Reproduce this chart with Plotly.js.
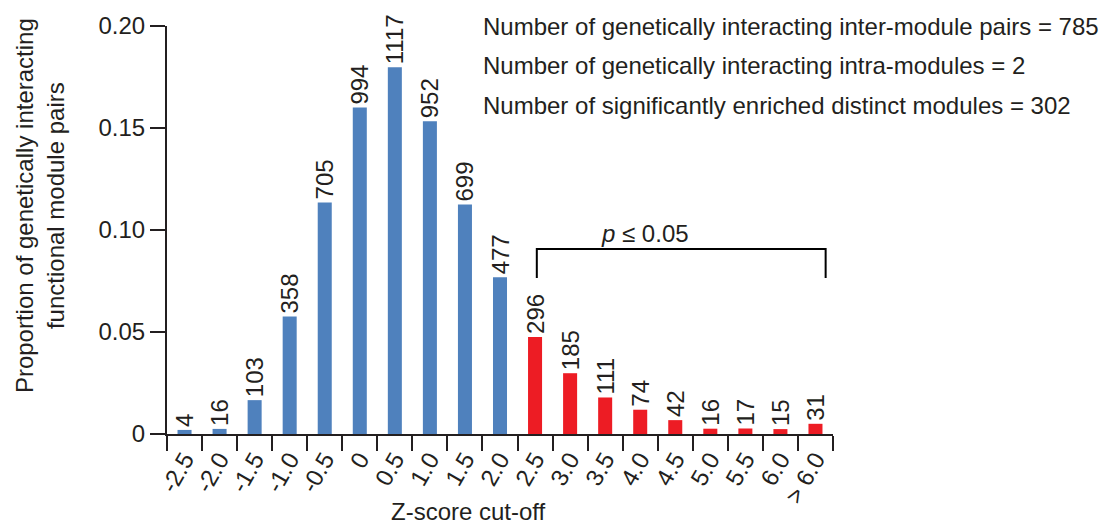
<!DOCTYPE html>
<html>
<head>
<meta charset="utf-8">
<script src="https://cdn.plot.ly/plotly-3.0.1.min.js"></script>
<style>html,body{margin:0;padding:0;background:#fff;}#chart{width:1099px;height:527px;}</style>
</head>
<body>
<div id="chart"></div>
<script>
// Z-score cut-off categories
const categories = ["-2.5","-2.0","-1.5","-1.0","-0.5","0","0.5","1.0","1.5","2.0","2.5","3.0","3.5","4.0","4.5","5.0","5.5","6.0","> 6.0"];
// Number of pairs in each bin (bar labels)
const counts = [4, 16, 103, 358, 705, 994, 1117, 952, 699, 477, 296, 185, 111, 74, 42, 16, 17, 15, 31];
// Proportion of genetically interacting functional module pairs
const proportions = [0.002, 0.0025, 0.0166, 0.0576, 0.1135, 0.160, 0.1798, 0.1533, 0.1125, 0.0768, 0.0476, 0.0298, 0.0179, 0.0119, 0.0068, 0.0026, 0.0027, 0.0024, 0.0050];
// Significant (p <= 0.05) bins
const significant = [false,false,false,false,false,false,false,false,false,false,true,true,true,true,true,true,true,true,true];
const yTickVals = [0, 0.05, 0.10, 0.15, 0.20];
const yTickText = ["0", "0.05", "0.10", "0.15", "0.20"];
const infoLines = [
  "Number of genetically interacting inter-module pairs = 785",
  "Number of genetically interacting intra-modules = 2",
  "Number of significantly enriched distinct modules = 302"
];

const BLUE = "#4f81bd", RED = "#ed1c24", INK = "#231f20";
const FONT = "Liberation Sans, Arial, Helvetica, sans-serif";
const FS = 24;

const trace = {
  type: "bar",
  x: categories,
  y: proportions,
  text: counts.map(String),
  textposition: "outside",
  textangle: -90,
  constraintext: "none",
  cliponaxis: false,
  textfont: {family: FONT, size: FS, color: INK},
  marker: {color: significant.map(s => s ? RED : BLUE), line: {width: 0}},
  hoverinfo: "x+y"
};

const infoY = [1.0, 0.902, 0.806];
const annotations = infoLines.map((t, i) => ({
  text: t, xref: "paper", yref: "paper", x: 0.4715, y: infoY[i],
  xanchor: "left", yanchor: "middle", showarrow: false,
  font: {family: FONT, size: FS, color: INK}
}));
annotations.push({
  text: "<i>p</i> ≤ 0.05", xref: "x", yref: "y", x: 13.13, y: 0.0985,
  xanchor: "center", yanchor: "middle", showarrow: false,
  font: {family: FONT, size: FS, color: INK}
});
annotations.push({
  text: "Proportion of genetically interacting<br>functional module pairs",
  xref: "paper", yref: "paper", x: -0.1907, y: 0.561, textangle: -90,
  xanchor: "center", yanchor: "middle", showarrow: false,
  font: {family: FONT, size: FS, color: INK}
});
annotations.push({
  text: "Z-score cut-off", xref: "paper", yref: "paper", x: 0.452, y: -0.191,
  xanchor: "center", yanchor: "middle", showarrow: false,
  font: {family: FONT, size: FS, color: INK}
});

const layout = {
  width: 1099, height: 527,
  margin: {l: 167, r: 266, t: 26, b: 93, pad: 0},
  paper_bgcolor: "#fff", plot_bgcolor: "#fff",
  font: {family: FONT, size: FS, color: INK},
  showlegend: false,
  bargap: 0.6,
  xaxis: {
    type: "category", range: [-0.5, 18.5], fixedrange: true,
    showline: true, linewidth: 2, linecolor: INK,
    ticks: "outside", tickson: "boundaries", ticklen: 15, tickwidth: 2, tickcolor: INK,
    tickangle: -60, tickfont: {family: FONT, size: FS, color: INK},
    showgrid: false, zeroline: false
  },
  yaxis: {
    range: [0, 0.2], fixedrange: true,
    tickvals: yTickVals, ticktext: yTickText,
    showline: true, linewidth: 2, linecolor: INK,
    ticks: "outside", ticklen: 15, tickwidth: 2, tickcolor: INK,
    tickfont: {family: FONT, size: FS, color: INK},
    showgrid: false, zeroline: false
  },
  shapes: [{
    type: "path", xref: "x", yref: "y",
    path: "M 10.05 0.0765 L 10.05 0.0907 L 18.29 0.0907 L 18.29 0.0765",
    line: {color: "#000", width: 2}
  }],
  annotations: annotations
};

Plotly.newPlot("chart", [trace], layout, {displayModeBar: false, staticPlot: true});
</script>
</body>
</html>
